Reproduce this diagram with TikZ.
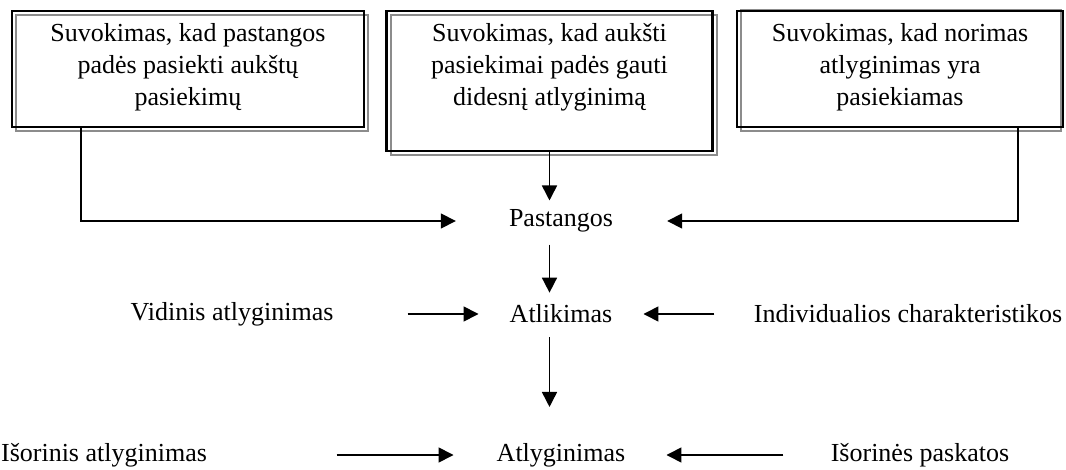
\documentclass[tikz,border=0pt]{standalone}
\usepackage{fontspec}
\setmainfont{Liberation Serif}
\usetikzlibrary{arrows.meta}
\begin{document}
\begin{tikzpicture}[x=1pt,y=-1pt,
  lbl/.style={font=\fontsize{26}{30}\selectfont, inner sep=0pt, align=center},
  boxtext/.style={lbl, font=\fontsize{26}{32}\selectfont},
  framebox/.style={draw=black, line width=2.4pt, inner sep=0pt},
  shade/.style={draw=black!45, line width=2.4pt},
  link/.style={line width=1.6pt},
  conn/.style={link, -{Triangle[length=15pt,width=15pt]}}]
\useasboundingbox (0,0) rectangle (1066,470);

% grey outlines behind the three frames
\draw[shade] (16,15) rectangle (368,131);
\draw[shade] (391,15) rectangle (717,155);
\draw[shade] (741,10) rectangle (1061,131);

% black frames
\node[framebox, minimum width=352pt, minimum height=116pt] (box1) at (188,69) {};
\node[framebox, minimum width=326pt, minimum height=140pt] (box2) at (549.5,81) {};
\node[framebox, minimum width=326pt, minimum height=116pt] (box3) at (900,69) {};

% frame texts
\node[boxtext, anchor=north] (t1) at (188,23) {Suvokimas, kad pastangos\\padės pasiekti aukštų\\pasiekimų};
\node[boxtext, anchor=north] (t2) at (549.5,23) {Suvokimas, kad aukšti\\pasiekimai padės gauti\\didesnį atlyginimą};
\node[boxtext, anchor=north] (t3) at (900,23) {Suvokimas, kad norimas\\atlyginimas yra\\pasiekiamas};

% middle column
\node[lbl] (pastangos) at (561,221) {Pastangos};
\node[lbl] (atlikimas) at (561,314) {Atlikimas};
\node[lbl] (atlyginimas) at (561,455) {Atlyginimas};

% side labels
\node[lbl] (vidinis) at (232,314) {Vidinis atlyginimas};
\node[lbl] (individ) at (908,314) {Individualios charakteristikos};
\node[lbl] (isorinis) at (104,455) {Išorinis atlyginimas};
\node[lbl] (isorines) at (920,455) {Išorinės paskatos};

% connectors into Pastangos
\draw[conn] ([xshift=70pt]box1.south west) |- ([xshift=-53pt]pastangos.west);
\draw[conn] ([xshift=-46pt]box3.south east) |- ([xshift=54pt]pastangos.east);
\draw[conn] (box2.south) -- ([yshift=9pt]box2.south |- pastangos.north);

% vertical flow
\draw[conn] ([yshift=-12pt]pastangos.south -| box2.south) -- ([yshift=12pt]atlikimas.north -| box2.south);
\draw[conn] ([yshift=-14pt]atlikimas.south -| box2.south) -- ([yshift=36pt]atlyginimas.north -| box2.south);

% side arrows
\draw[conn] ([xshift=-102pt]atlikimas.west) -- ([xshift=-31pt]atlikimas.west);
\draw[conn] ([xshift=102pt]atlikimas.east) -- ([xshift=31pt]atlikimas.east);
\draw[conn] ([xshift=-160pt]atlyginimas.west) -- ([xshift=-43pt]atlyginimas.west);
\draw[conn] ([xshift=158pt]atlyginimas.east) -- ([xshift=41pt]atlyginimas.east);
\end{tikzpicture}
\end{document}
